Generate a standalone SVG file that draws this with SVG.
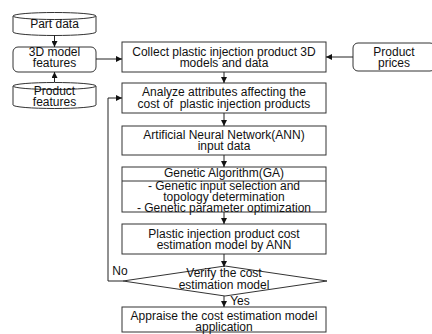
<svg xmlns="http://www.w3.org/2000/svg" width="432" height="334" viewBox="0 0 432 334">
<defs>
<marker id="ah" viewBox="0 0 6 6" refX="6" refY="3" markerWidth="6" markerHeight="6" markerUnits="userSpaceOnUse" orient="auto">
<path d="M0,0 L6,3 L0,6 Z" fill="#111"/>
</marker>
</defs>
<style>
.s{fill:#fff;stroke:#333;stroke-width:1}
.t{font-family:"Liberation Sans",Arial,sans-serif;font-size:12px;fill:#111;text-anchor:middle}
.c{fill:none;stroke:#222;stroke-width:1}
</style>
<rect width="432" height="334" fill="#fff"/>
<g id="part-data">
<path class="s" d="M13,16 A41.5,3.5 0 0 1 96,16 V32 A41.5,3.5 0 0 1 13,32 Z"/>
<path class="s" d="M13,16 A41.5,3.5 0 0 0 96,16"/>
<text class="t" x="54.5" y="28">Part data</text>
</g>
<g id="model-features">
<rect class="s" x="13" y="47" width="83" height="25" rx="5"/>
<text class="t" x="54.5" y="56">3D model</text>
<text class="t" x="54.5" y="67">features</text>
</g>
<g id="product-features">
<path class="s" d="M13,86 A41.5,3.5 0 0 1 96,86 V105 A41.5,3.5 0 0 1 13,105 Z"/>
<path class="s" d="M13,86 A41.5,3.5 0 0 0 96,86"/>
<text class="t" x="54.5" y="95">Product</text>
<text class="t" x="54.5" y="106">features</text>
</g>
<g id="collect">
<rect class="s" x="122" y="42" width="204" height="30"/>
<text class="t" x="224" y="56">Collect plastic injection product 3D</text>
<text class="t" x="224" y="67">models and data</text>
</g>
<g id="product-prices">
<rect class="s" x="353" y="43" width="82" height="28" rx="5"/>
<text class="t" x="394" y="56">Product</text>
<text class="t" x="394" y="67">prices</text>
</g>
<g id="analyze">
<rect class="s" x="122" y="83" width="204" height="30"/>
<text class="t" x="224" y="96">Analyze attributes affecting the</text>
<text class="t" x="224" y="108" xml:space="preserve">cost of  plastic injection products</text>
</g>
<g id="ann-input">
<rect class="s" x="122" y="126" width="204" height="29"/>
<text class="t" x="224" y="139">Artificial Neural Network(ANN)</text>
<text class="t" x="224" y="150">input data</text>
</g>
<g id="ga">
<rect class="s" x="122" y="167" width="204" height="45"/>
<line class="s" x1="122" y1="181" x2="326" y2="181"/>
<text class="t" x="224" y="177">Genetic Algorithm(GA)</text>
<text class="t" x="224" y="190">- Genetic input selection and</text>
<text class="t" x="224" y="201">topology determination</text>
<text class="t" x="224" y="212">- Genetic parameter optimization</text>
</g>
<g id="ann-model">
<rect class="s" x="122" y="224" width="204" height="30"/>
<text class="t" x="224" y="238">Plastic injection product cost</text>
<text class="t" x="224" y="249">estimation model by ANN</text>
</g>
<g id="verify">
<path class="s" d="M123,281 L225,266 L327,281 L225,296 Z"/>
<text class="t" x="224" y="277">Verify the cost</text>
<text class="t" x="224" y="289">estimation model</text>
</g>
<g id="appraise">
<rect class="s" x="122" y="307" width="204" height="25"/>
<text class="t" x="224" y="320">Appraise the cost estimation model</text>
<text class="t" x="224" y="331">application</text>
</g>
<g id="connectors">
<line class="c" x1="54.5" y1="35" x2="54.5" y2="47" marker-end="url(#ah)"/>
<line class="c" x1="54.5" y1="82" x2="54.5" y2="72" marker-end="url(#ah)"/>
<line class="c" x1="96" y1="59" x2="122" y2="59" marker-end="url(#ah)"/>
<line class="c" x1="353" y1="57" x2="326" y2="57" marker-end="url(#ah)"/>
<line class="c" x1="224" y1="72" x2="224" y2="83" marker-end="url(#ah)"/>
<line class="c" x1="224" y1="113" x2="224" y2="126" marker-end="url(#ah)"/>
<line class="c" x1="224" y1="155" x2="224" y2="167" marker-end="url(#ah)"/>
<line class="c" x1="224" y1="212" x2="224" y2="224" marker-end="url(#ah)"/>
<line class="c" x1="224" y1="254" x2="224" y2="267" marker-end="url(#ah)"/>
<line class="c" x1="224" y1="296" x2="224" y2="307" marker-end="url(#ah)"/>
<polyline class="c" points="123,281 108,281 108,98 122,98" marker-end="url(#ah)"/>
<text class="t" x="120" y="275">No</text>
<text class="t" x="240" y="305">Yes</text>
</g>
</svg>
